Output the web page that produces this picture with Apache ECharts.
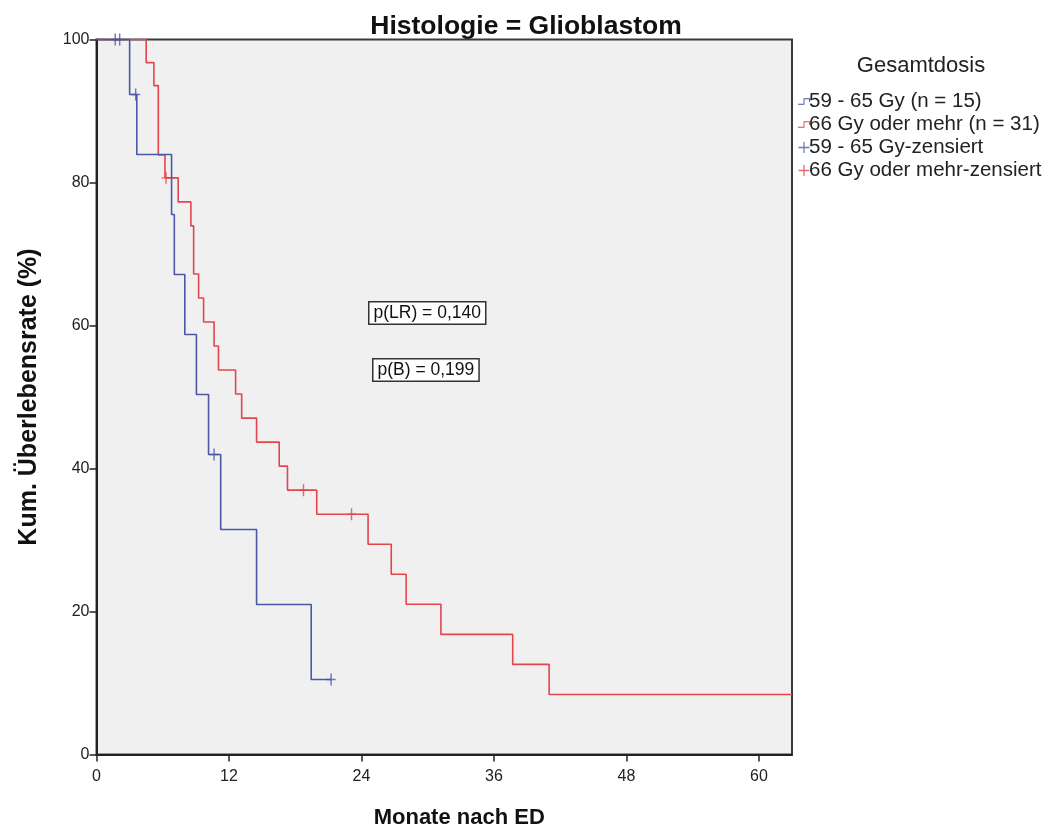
<!DOCTYPE html>
<html>
<head>
<meta charset="utf-8">
<script src="https://cdn.jsdelivr.net/npm/echarts@6/dist/echarts.min.js"></script>
<style>
  html, body { margin: 0; padding: 0; background: #ffffff; }
  #chart { width: 1054px; height: 830px; }
</style>
</head>
<body>
<div id="chart"></div>
<script>
// Kaplan-Meier survival, glioblastoma, by total dose group
const seriesNames = [
  '59 - 65 Gy (n = 15)',
  '66 Gy oder mehr (n = 31)',
  '59 - 65 Gy-zensiert',
  '66 Gy oder mehr-zensiert'
];

// 59 - 65 Gy: event times (months) and survival (%) after each step
const lowTimes = [0, 3.0, 3.65, 6.8, 7.05, 8.0, 9.05, 10.15, 11.25, 14.5, 19.45, 21.25];
const lowSurv  = [100, 92.31, 83.92, 75.52, 67.13, 58.74, 50.35, 41.96, 31.47, 20.98, 10.49, 10.49];
// 59 - 65 Gy: censored observations
const lowCensTimes = [1.7, 2.1, 3.55, 10.65, 21.25];
const lowCensSurv  = [100, 100, 92.31, 41.96, 10.49];

// 66 Gy oder mehr: event times (months) and survival (%)
const highTimes = [0, 4.5, 5.2, 5.6, 6.2, 7.4, 8.55, 8.8, 9.25, 9.7, 10.65, 11.05, 12.6, 13.15,
                   14.5, 16.55, 17.3, 19.95, 24.6, 26.7, 28.05, 31.2, 37.7, 41.0, 63];
const highSurv  = [100, 96.77, 93.55, 83.87, 80.65, 77.29, 73.93, 67.21, 63.85, 60.49, 57.13, 53.77, 50.41, 47.05,
                   43.69, 40.33, 36.97, 33.61, 29.41, 25.21, 21.01, 16.80, 12.60, 8.40, 8.40];
// 66 Gy oder mehr: censored observations
const highCensTimes = [6.3, 18.75, 23.1];
const highCensSurv  = [80.65, 36.97, 33.61];

// axis ticks
const xTicks = [0, 12, 24, 36, 48, 60];
const yTicks = [0, 20, 40, 60, 80, 100];

// test statistics shown in the plot
const pLabels = ['p(LR) = 0,140', 'p(B) = 0,199'];

const blue = '#4a58a6';
const red = '#e2454d';
const font = 'Liberation Sans, Arial, sans-serif';

const zip = (a, b) => a.map((v, i) => [v, b[i]]);

const stepIcon = 'path://M0,7H6V1H13V5H12V2H7V8H0Z';
const plusIcon = 'path://M5.3,0H6.7V5.3H12V6.7H6.7V12H5.3V6.7H0V5.3H5.3Z';
const censorSymbol = 'path://M4.2,0H5.8V5.3H10V6.7H5.8V12H4.2V6.7H0V5.3H4.2Z';

const chart = echarts.init(document.getElementById('chart'), null, { renderer: 'canvas' });

chart.setOption({
  animation: false,
  backgroundColor: '#ffffff',
  textStyle: { fontFamily: font },
  title: [
    {
      text: 'Histologie = Glioblastom',
      left: 521, top: 8, textAlign: 'center',
      textStyle: { fontFamily: font, fontSize: 26.5, fontWeight: 'bold', color: '#111' }
    },
    {
      text: 'Gesamtdosis',
      left: 916, top: 50, textAlign: 'center',
      textStyle: { fontFamily: font, fontSize: 22, fontWeight: 'normal', color: '#222' }
    }
  ],
  legend: {
    orient: 'vertical',
    left: 793, top: 86,
    itemGap: 2,
    itemWidth: 12, itemHeight: 11,
    textStyle: { fontFamily: font, fontSize: 20.5, color: '#222', padding: [0, 0, 0, -6] },
    data: [
      { name: seriesNames[0], icon: stepIcon, itemStyle: { color: blue } },
      { name: seriesNames[1], icon: stepIcon, itemStyle: { color: red } },
      { name: seriesNames[2], icon: plusIcon, itemStyle: { color: blue } },
      { name: seriesNames[3], icon: plusIcon, itemStyle: { color: red } }
    ],
    selectedMode: false
  },
  grid: {
    left: 96.5, right: 262, top: 39.5, bottom: 75.5,
    outerBoundsMode: 'none',
    containLabel: false,
    show: true,
    backgroundColor: '#f0f0f0',
    borderColor: '#3a3a3a',
    borderWidth: 2
  },
  xAxis: {
    type: 'value',
    min: 0, max: 63, interval: 12,
    name: 'Monate nach ED',
    nameLocation: 'middle',
    nameGap: 52,
    nameTextStyle: { fontFamily: font, fontSize: 22, fontWeight: 'bold', color: '#111', padding: [0, 0, 0, 30] },
    axisLine: { show: true, lineStyle: { color: '#222', width: 2 } },
    axisTick: { show: true, inside: false, length: 7, customValues: xTicks, lineStyle: { color: '#222', width: 1.5 } },
    axisLabel: { customValues: xTicks, margin: 14, fontFamily: font, fontSize: 16, color: '#222' },
    splitLine: { show: false }
  },
  yAxis: {
    type: 'value',
    min: 0, max: 100, interval: 20,
    name: 'Kum. Überlebensrate (%)',
    nameLocation: 'middle',
    nameGap: 55,
    nameTextStyle: { fontFamily: font, fontSize: 25, fontWeight: 'bold', color: '#111' },
    axisLine: { show: true, lineStyle: { color: '#222', width: 2 } },
    axisTick: { show: true, inside: false, length: 7, customValues: yTicks, lineStyle: { color: '#222', width: 1.5 } },
    axisLabel: { customValues: yTicks, margin: 7, fontFamily: font, fontSize: 16, color: '#222' },
    splitLine: { show: false }
  },
  series: [
    {
      name: seriesNames[0], type: 'line', step: 'end',
      data: zip(lowTimes, lowSurv),
      showSymbol: false, symbol: 'none',
      lineStyle: { color: blue, width: 1.6 },
      itemStyle: { color: blue },
      z: 3
    },
    {
      name: seriesNames[1], type: 'line', step: 'end',
      data: zip(highTimes, highSurv),
      showSymbol: false, symbol: 'none',
      lineStyle: { color: red, width: 1.6 },
      itemStyle: { color: red },
      z: 2
    },
    {
      name: seriesNames[2], type: 'scatter',
      data: zip(lowCensTimes, lowCensSurv),
      symbol: censorSymbol, symbolSize: [9, 12],
      itemStyle: { color: blue },
      z: 4
    },
    {
      name: seriesNames[3], type: 'scatter',
      data: zip(highCensTimes, highCensSurv),
      symbol: censorSymbol, symbolSize: [9, 12],
      itemStyle: { color: red },
      z: 4
    }
  ],
  graphic: pLabels.map((t, i) => ({
    type: 'text',
    left: i === 0 ? 368 : 372,
    top: i === 0 ? 301 : 358,
    z: 10,
    style: {
      text: t,
      fontFamily: font,
      fontSize: 17.5,
      fill: '#111',
      backgroundColor: '#ffffff',
      borderColor: '#333',
      borderWidth: 1.5,
      padding: [2, 4, 1, 4]
    }
  }))
});
</script>
</body>
</html>
